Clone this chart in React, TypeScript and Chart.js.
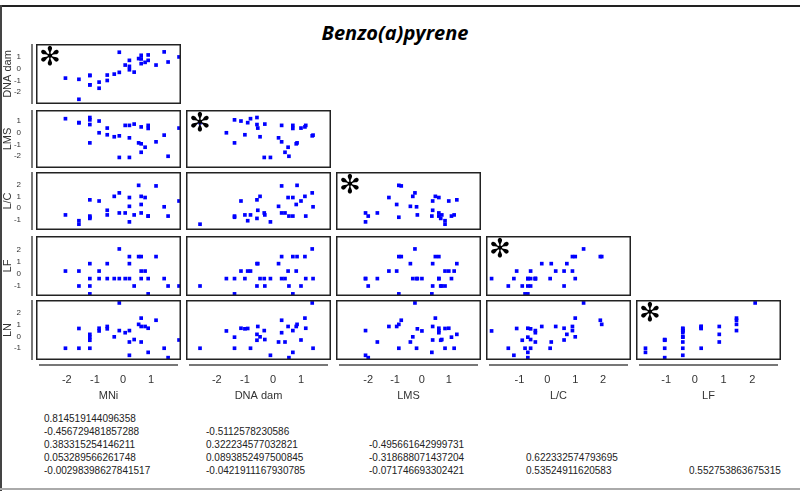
import { useEffect, useRef } from "react"
import { Chart, registerables } from "chart.js"

Chart.register(...registerables)

const mni = [-2.05, -1.57, -1.57, -1.18, -1.18, -1.18, -1.18, -0.85, -0.85, -0.56, -0.56, -0.31, -0.13, -0.13, 0.08,
  0.23, 0.23, 0.23, 0.4, 0.56, 0.65, 0.65, 0.65, 0.79, 0.9, 0.9, 1.18, 1.47, 1.61, 2.0]
const dnaDam = [-0.8, -0.9, -2.6, -0.57, -1.37, -0.57, -1.37, -1.14, -1.66, -0.54, -1.0, -0.46, 1.4, -0.31, 0.31,
  0.71, 0.2, -0.09, -0.29, 0.86, 1.14, 0.83, 0.43, 0.54, 1.17, 0.71, 0.31, 1.43, 0.57, 1.0]
const lms = [1.2, 0.86, 0.86, 1.3, 1.1, 0.7, -0.86, 1.0, 0, 0.4, -0.17, -0.34, -0.26, -2.1, 0.63,
  0.63, -0.43, -2.1, 0.74, -0.86, 0.5, -0.94, -1.66, -1.23, 0.63, 0.37, -0.77, -0.2, -2.0, 0.4]
const lc = [-0.6, -1.1, -1.4, 0.7, -0.7, -0.9, -0.8, 0.6, -2.0, -0.2, -0.6, 1.0, 1.3, -0.43, -0.43,
  0.9, 0.14, -1.2, -0.6, 1.95, 1.0, 0.3, -0.43, 0.9, -0.7, -0.7, 1.9, 0.1, -0.7, 0.6]
const lf = [0.22, 0.22, -1.05, 0.85, -0.42, -1.05, -1.72, 0.22, -0.42, 0.85, -0.42, -0.42, 2.1, -0.42, -0.42,
  1.45, 0.85, -0.42, -1.05, 1.45, 1.45, 0.22, -0.42, 0.22, -0.42, -1.72, 1.45, -0.42, -1.05, -1.05]
const ln = [-1, 0.68, -1, 0.18, -0.06, -0.32, -1, 0.7, 0.47, 0.85, 0.65, -0.03, 2.85, 0.5, 0.32,
  0.5, -0.47, -1.6, -0.26, 1.03, 1.56, 0.85, -0.47, 0.85, 0.7, -1.35, 1.38, -1, -1.8, -0.3]

const variables = [mni, dnaDam, lms, lc, lf, ln]
const varNames = ["MNi", "DNA dam", "LMS", "L/C", "LF", "LN"]

// axis ranges and ticks
const xRanges = [[-3.1, 2.07], [-3.1, 2.07], [-3.2, 2.2], [-2.2, 3.0], [-2.05, 3.0]]
const xTicks = [[-2, -1, 0, 1], [-2, -1, 0, 1], [-2, -1, 0, 1], [-1, 0, 1, 2], [-1, 0, 1, 2]]
const yRanges = [[-3.0, 2.1], [-3.0, 1.94], [-1.9, 3.1], [-1.9, 3.2], [-2.0, 3.1]]
const yTicks = [[-2, -1, 0, 1], [-2, -1, 0, 1], [-1, 0, 1, 2], [-1, 0, 1, 2], [-1, 0, 1, 2]]

const correlations = [
  ["0.814519144096358"],
  ["-0.456729481857288", "-0.5112578230586"],
  ["0.383315254146211", "0.322234577032821", "-0.495661642999731"],
  ["0.053289566261748", "0.0893852497500845", "-0.318688071437204", "0.622332574793695"],
  ["-0.00298398627841517", "-0.0421911167930785", "-0.071746693302421", "0.53524911620583", "0.552753863675315"],
]

const colLeft = [36, 186, 336, 486, 636]
const rowTop = [44, 110, 172, 236, 300]
const panelW = 145
const panelH = [60, 58, 58, 60, 60]
const yAxisW = 36
const xAxisH = 45
const corrX = [44, 206, 369, 526, 689]
const FONT = "'Liberation Sans', Arial, sans-serif"

type Panel = { row: number; col: number }
const panels: Panel[] = []
for (let r = 0; r < 5; r++) for (let c = 0; c <= r; c++) panels.push({ row: r, col: c })

const noPad = (s: any) => {
  s.paddingTop = 0
  s.paddingBottom = 0
  s.paddingLeft = 0
  s.paddingRight = 0
}

function PanelChart({ row, col }: Panel) {
  const ref = useRef<HTMLCanvasElement>(null)
  const showY = col === 0
  const showX = row === 4
  const left = colLeft[col] - (showY ? yAxisW : 0)
  const width = panelW + (showY ? yAxisW : 0)
  const height = panelH[row] + (showX ? xAxisH : 0)

  useEffect(() => {
    if (!ref.current) return
    const xs = variables[col]
    const ys = variables[row + 1]
    const deco = {
      id: "deco",
      afterDraw(chart: Chart) {
        const { ctx, chartArea: a } = chart
        ctx.save()
        ctx.strokeStyle = "#222"
        ctx.lineWidth = 1.5
        ctx.strokeRect(a.left + 0.75, a.top + 0.75, a.right - a.left - 1.5, a.bottom - a.top - 1.5)
        ctx.strokeStyle = "#777"
        ctx.lineWidth = 2
        if (showY) {
          ctx.beginPath()
          ctx.moveTo(a.left - 4, a.top)
          ctx.lineTo(a.left - 4, a.bottom)
          ctx.stroke()
        }
        if (showX) {
          ctx.beginPath()
          ctx.moveTo(a.left + 3, a.bottom + 5)
          ctx.lineTo(a.right - 3, a.bottom + 5)
          ctx.stroke()
        }
        if (row === col) {
          ctx.fillStyle = "#000"
          ctx.font = "bold 26px 'DejaVu Sans'"
          ctx.textBaseline = "top"
          ctx.fillText("\u273B", a.left + 3, a.top + 1)
        }
        ctx.restore()
      },
    }
    const chart = new Chart(ref.current, {
      type: "scatter",
      data: {
        datasets: [
          {
            data: xs.map((x, i) => ({ x, y: ys[i] })),
            backgroundColor: "#0000ff",
            borderWidth: 0,
            pointStyle: "rect",
            pointRadius: 2.6,
          },
        ],
      },
      options: {
        responsive: false,
        animation: false,
        layout: { padding: 0, autoPadding: false },
        plugins: { legend: { display: false }, tooltip: { enabled: false } },
        scales: {
          x: {
            display: showX,
            min: xRanges[col][0],
            max: xRanges[col][1],
            grid: { display: false },
            border: { display: false },
            afterBuildTicks: (s: any) => {
              s.ticks = xTicks[col].map((v) => ({ value: v }))
            },
            afterFit: (s: any) => {
              s.height = showX ? xAxisH : 0
              noPad(s)
            },
            ticks: { color: "#333", font: { family: FONT, size: 11 }, padding: 5 },
            title: {
              display: true,
              text: varNames[col],
              color: "#333",
              font: { family: FONT, size: 11 },
              padding: { top: 2, bottom: 2 },
            },
          },
          y: {
            display: showY,
            min: yRanges[row][0],
            max: yRanges[row][1],
            grid: { display: false },
            border: { display: false },
            afterBuildTicks: (s: any) => {
              s.ticks = yTicks[row].map((v) => ({ value: v }))
            },
            afterFit: (s: any) => {
              s.width = showY ? yAxisW : 0
              noPad(s)
            },
            ticks: { color: "#333", font: { family: FONT, size: 8 }, padding: 7 },
            title: {
              display: true,
              text: varNames[row + 1],
              color: "#333",
              font: { family: FONT, size: 11 },
              padding: { top: 1, bottom: 0 },
            },
          },
        },
      },
      plugins: [deco],
    })
    return () => chart.destroy()
  }, [row, col])

  return (
    <canvas
      ref={ref}
      width={width}
      height={height}
      style={{ position: "absolute", left, top: rowTop[row], width, height }}
    />
  )
}

export default function App() {
  return (
    <div style={{ position: "absolute", left: 0, top: 0, width: 800, height: 491, background: "#fff", overflow: "hidden", fontFamily: FONT }}>
      <div style={{ position: "absolute", left: 0, top: 5, width: 800, height: 2, background: "#222" }} />
      <div style={{ position: "absolute", left: 0, top: 5, width: 2, height: 486, background: "#444" }} />
      <div style={{ position: "absolute", left: 0, top: 488, width: 800, height: 2, background: "#aaa" }} />
      <div style={{ position: "absolute", left: 0, top: 19, width: 790, textAlign: "center", fontFamily: "'Open Sans', sans-serif", fontWeight: "bold", fontStyle: "italic", fontSize: 20 }}>
        Benzo(a)pyrene
      </div>
      {panels.map((p) => (
        <PanelChart key={`${p.row}-${p.col}`} row={p.row} col={p.col} />
      ))}
      {correlations.map((line, r) =>
        line.map((txt, c) => (
          <div key={`${r}-${c}`} style={{ position: "absolute", left: corrX[c], top: 413 + r * 13, fontSize: 10, color: "#222" }}>
            {txt}
          </div>
        ))
      )}
    </div>
  )
}
